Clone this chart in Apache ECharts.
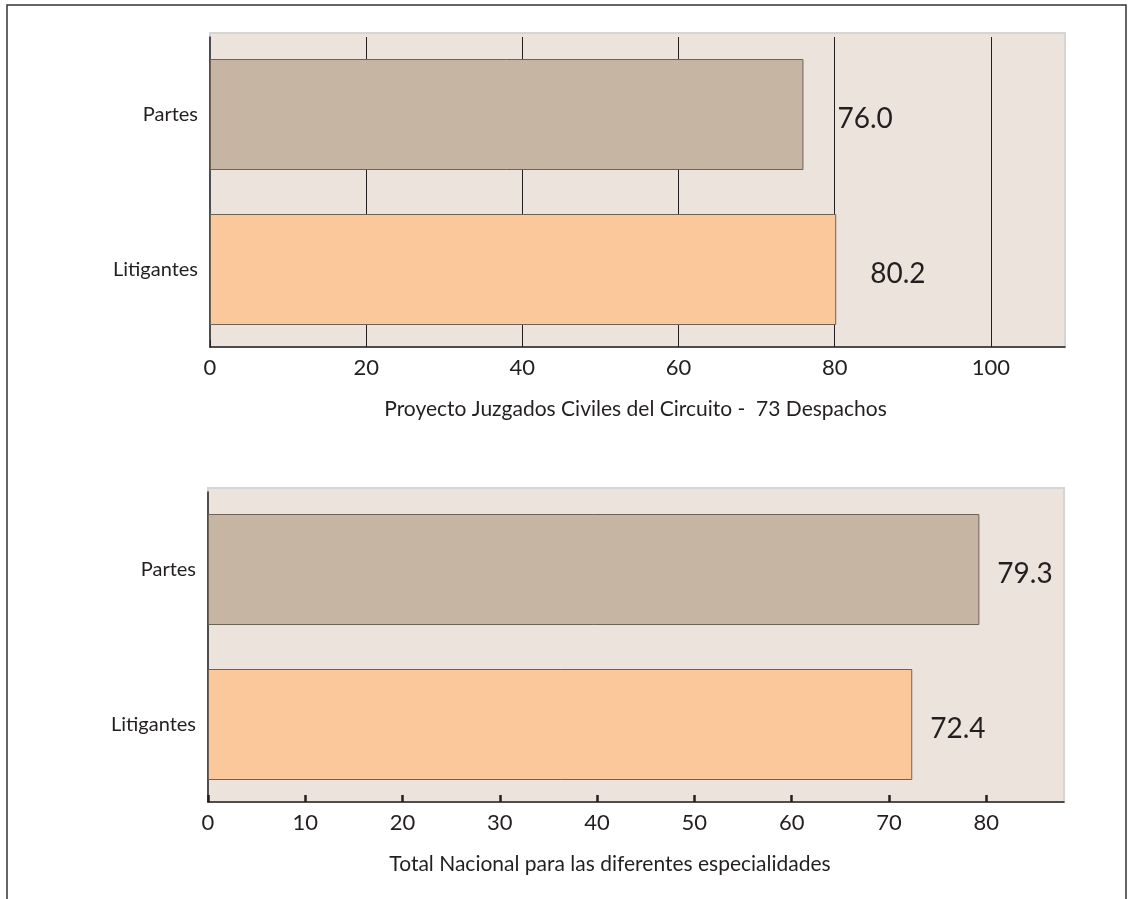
<!DOCTYPE html>
<html>
<head>
<meta charset="utf-8">
<script src="https://cdn.jsdelivr.net/npm/echarts@6/dist/echarts.min.js"></script>
<style>
html,body{margin:0;padding:0;background:#fff;}
#chart{width:1132px;height:899px;}
</style>
</head>
<body>
<div id="chart"></div>
<script>
const categories = ['Partes', 'Litigantes'];
const proyectoValues = [76.0, 80.2];
const nacionalValues = [79.3, 72.4];
const proyectoTitle = 'Proyecto Juzgados Civiles del Circuito -  73 Despachos';
const nacionalTitle = 'Total Nacional para las diferentes especialidades';
const proyectoAxis = { min: 0, max: 109.5, interval: 20 };
const nacionalAxis = { min: 0, max: 88, interval: 10 };

const barColors = ['#c5b5a2', '#fbc89c'];
const FONT = 'Lato, "Open Sans", sans-serif';
const TEXT = '#231f20';

function barData(vals) {
  return vals.map((v, i) => ({ value: v, itemStyle: { color: barColors[i] } }));
}

function xAxisCfg(gi, ax, title, splitShow, tickWidth, namePad) {
  return {
    type: 'value', gridIndex: gi, min: ax.min, max: ax.max, interval: ax.interval,
    axisLine: { show: true, lineStyle: { color: '#231f20', width: 1.5 } },
    axisTick: { show: true, inside: true, length: 7, lineStyle: { color: '#231f20', width: tickWidth } },
    axisLabel: { show: true, showMaxLabel: false, margin: 10, fontSize: 22, color: TEXT, fontFamily: FONT },
    splitLine: { show: splitShow, showMinLine: false, showMaxLine: false, lineStyle: { color: '#231f20', width: 1 } },
    name: title, nameLocation: 'middle', nameGap: 52,
    nameTextStyle: { fontSize: 21, color: TEXT, fontFamily: FONT, padding: namePad }
  };
}
function yAxisCfg(gi) {
  return {
    type: 'category', gridIndex: gi, data: categories, inverse: true,
    axisLine: { show: true, lineStyle: { color: '#231f20', width: 1.5 } },
    axisTick: { show: false },
    axisLabel: { margin: 12, fontSize: 20, color: TEXT, fontFamily: FONT },
    splitLine: { show: false }
  };
}
function seriesCfg(gi, vals, dist) {
  return {
    type: 'bar', xAxisIndex: gi, yAxisIndex: gi, data: barData(vals),
    barWidth: 111,
    itemStyle: { borderColor: '#6e6255', borderWidth: 1 },
    label: {
      show: true, position: 'right', distance: dist, offset: [0, 4],
      formatter: p => p.value.toFixed(1),
      fontSize: 28, color: TEXT, fontFamily: FONT
    },
    emphasis: { disabled: true },
    z: 3
  };
}

const chart = echarts.init(document.getElementById('chart'), null, { renderer: 'canvas' });
chart.setOption({
  animation: false,
  backgroundColor: '#ffffff',
  graphic: [
    { type: 'rect', z: -20, shape: { x: 7, y: 5, width: 1119, height: 905 },
      style: { fill: '#ffffff', stroke: '#333333', lineWidth: 1.5 } },
    { type: 'rect', z: -10, shape: { x: 210, y: 33, width: 855, height: 314 },
      style: { fill: '#ece4dc', stroke: '#d5d5d5', lineWidth: 2 } },
    { type: 'rect', z: -10, shape: { x: 208, y: 488, width: 856, height: 314 },
      style: { fill: '#ece4dc', stroke: '#d5d5d5', lineWidth: 2 } }
  ],
  grid: [
    { left: 210, top: 37, width: 855, height: 310, show: false },
    { left: 208, top: 492, width: 856, height: 310, show: false }
  ],
  xAxis: [
    xAxisCfg(0, proyectoAxis, proyectoTitle, true, 1, [0, 4, 0, 0]),
    xAxisCfg(1, nacionalAxis, nacionalTitle, false, 2.5, [0, 52, 0, 0])
  ],
  yAxis: [yAxisCfg(0), yAxisCfg(1)],
  series: [
    seriesCfg(0, proyectoValues, 34),
    seriesCfg(1, nacionalValues, 18)
  ]
});
</script>
</body>
</html>
